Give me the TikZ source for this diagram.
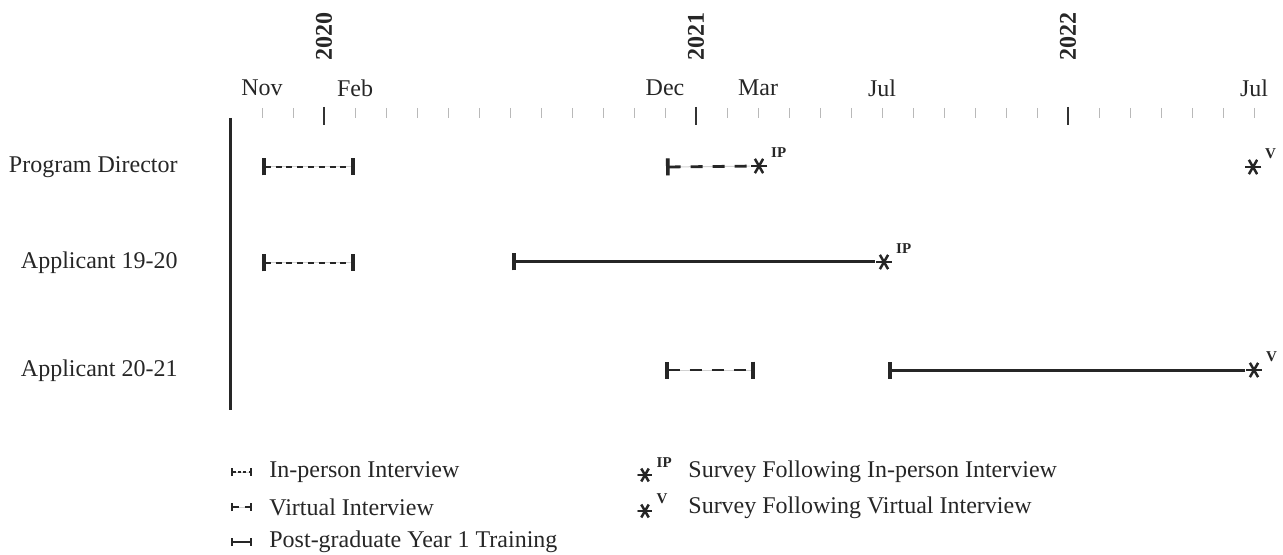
\documentclass[tikz,border=0pt]{standalone}
\usepackage{fontspec}
\setmainfont{Liberation Serif}
\usetikzlibrary{
    arrows.meta,
    positioning,
}
\tikzstyle{line} = [draw, black!85]
\tikzstyle{rowname} = [anchor=east, inner sep=0pt, text=black!85,
    font=\fontsize{12}{14}\selectfont]
\tikzstyle{month} = [inner sep=0pt, text=black!85,
    font=\fontsize{12}{14}\selectfont]
\tikzstyle{year} = [inner sep=0pt, rotate=90, text=black!85,
    font=\fontsize{12}{14}\selectfont\bfseries]
\tikzstyle{legtext} = [anchor=west, inner sep=0pt, text=black!85,
    font=\fontsize{12}{14}\selectfont]
\tikzstyle{sup} = [inner sep=0.3pt, xshift=2.5pt, yshift=0.5pt, text=black!85,
    font=\fontsize{7.5}{9}\selectfont\bfseries]
\tikzstyle{minortick} = [draw, gray!55, line width=0.5pt]
\tikzstyle{majortick} = [draw, black!80, line width=1pt]
\tikzstyle{inPerson} = [line, line width=1.2pt, dash pattern=on 3pt off 2.4pt,
    preaction={draw, solid, gray!35, line width=0.5pt}]
\tikzstyle{virtual} = [line, line width=1.4pt, dash pattern=on 6pt off 5pt,
    preaction={draw, solid, gray!35, line width=0.5pt}]
\tikzstyle{training} = [line, line width=1.5pt]
\tikzstyle{bothbars} = [{Bar[width=8.5pt,line width=1.8pt]}-{Bar[width=8.5pt,line width=1.8pt]}]
\tikzstyle{startbar} = [{Bar[width=8.5pt,line width=1.8pt]}-]
\tikzstyle{legbars} = [{Bar[width=4pt,line width=1pt]}-{Bar[width=4pt,line width=1pt]}]
\tikzset{
    survey/.style={circle, inner sep=0pt, minimum size=2*#1,
        path picture={
            \foreach \a in {0,60,120}
                \draw [black!85, line width=1.25pt]
                    ([shift={(\a:#1)}]path picture bounding box.center) --
                    ([shift={(\a+180:#1)}]path picture bounding box.center);
        }},
    survey/.default=4.2pt,
}

\begin{document}
\begin{tikzpicture}[x=0.5pt, y=-0.5pt]
        \useasboundingbox (0,0) rectangle (1283,555);
        % Place nodes
        \node [rowname] (pd) at (178,167) {Program Director};
        \node [rowname] (app1920) at (178,263) {Applicant 19-20};
        \node [rowname] (app2021) at (178,371) {Applicant 20-21};
        % time axis
        \foreach \k in {0,...,32}
            \coordinate (t\k) at (262+31*\k,113);
        \foreach \k in {0,...,32}
            \path [minortick] ([yshift=2.5pt]t\k) -- ([yshift=-2.5pt]t\k);
        \foreach \k in {2,14,26}
            \path [majortick] ([yshift=3pt]t\k) -- ([yshift=-6pt]t\k);
        \node [month] (nov19) at ([yshift=12.5pt]t0) {Nov};
        \node [month] (feb20) at ([yshift=12.5pt]t3) {Feb};
        \node [month] (dec20) at ([yshift=12.5pt]t13) {Dec};
        \node [month] (mar21) at ([yshift=12.5pt]t16) {Mar};
        \node [month] (jul21) at ([yshift=12.5pt]t20) {Jul};
        \node [month] (jul22) at ([yshift=12.5pt]t32) {Jul};
        \node [year] (y2020) at ([yshift=38pt]t2) {2020};
        \node [year] (y2021) at ([yshift=38pt]t14) {2021};
        \node [year] (y2022) at ([yshift=38pt]t26) {2022};
        \coordinate (axis_top) at (230,118);
        \coordinate (axis_bot) at (230,410);
        % Program Director
        \coordinate (pd_ip_s) at (262,167);
        \coordinate (pd_ip_e) at (355,167);
        \coordinate (pd_v_s) at (666,167);
        \node [survey, label={[sup]north east:IP}] (pd_svIP) at (759,166) {};
        \node [survey, label={[sup]north east:V}] (pd_svV) at (1253,167) {};
        % Applicant 19-20
        \coordinate (a19_ip_s) at (262,263);
        \coordinate (a19_ip_e) at (355,263);
        \coordinate (a19_pgy_s) at (512,262);
        \node [survey, label={[sup]north east:IP}] (a19_svIP) at (884,262) {};
        % Applicant 20-21
        \coordinate (a20_v_s) at (665,370);
        \coordinate (a20_v_e) at (755,370);
        \coordinate (a20_pgy_s) at (888,370);
        \node [survey, label={[sup]north east:V}] (a20_svV) at (1254,370) {};
        % Legend
        \coordinate (leg_ip_s) at (231,472);
        \coordinate (leg_ip_e) at (252,472);
        \coordinate (leg_v_s) at (231,507);
        \coordinate (leg_v_e) at (252,507);
        \coordinate (leg_pgy_s) at (231,542);
        \coordinate (leg_pgy_e) at (252,542);
        \node [legtext, right=8.5pt of leg_ip_e] (leg_ip_txt) {In-person Interview};
        \node [legtext, right=8.5pt of leg_v_e] (leg_v_txt) {Virtual Interview};
        \node [legtext, right=8.5pt of leg_pgy_e] (leg_pgy_txt) {Post-graduate Year 1 Training};
        \node [survey=3.8pt, label={[sup]north east:IP}] (leg_svIP) at (645,475) {};
        \node [survey=3.8pt, label={[sup]north east:V}] (leg_svV) at (645,511) {};
        \node [legtext] (leg_svIP_txt) at (688,472) {Survey Following In-person Interview};
        \node [legtext] (leg_svV_txt) at (688,508) {Survey Following Virtual Interview};
        % Draw edges
        \path [line, line width=1.5pt] (axis_top) -- (axis_bot);
        \path [inPerson, bothbars] (pd_ip_s) -- (pd_ip_e);
        \path [virtual, startbar] (pd_v_s) -- (pd_svIP);
        \path [inPerson, bothbars] (a19_ip_s) -- (a19_ip_e);
        \path [training, startbar] (a19_pgy_s) -- (a19_svIP);
        \path [virtual, bothbars] (a20_v_s) -- (a20_v_e);
        \path [training, startbar] (a20_pgy_s) -- (a20_svV);
        \path [inPerson, legbars, line width=0.8pt, dash pattern=on 1.5pt off 1.2pt] (leg_ip_s) -- (leg_ip_e);
        \path [virtual, legbars, line width=0.9pt, dash pattern=on 3pt off 3pt] (leg_v_s) -- (leg_v_e);
        \path [training, legbars, line width=1pt] (leg_pgy_s) -- (leg_pgy_e);
    \end{tikzpicture}
\end{document}
